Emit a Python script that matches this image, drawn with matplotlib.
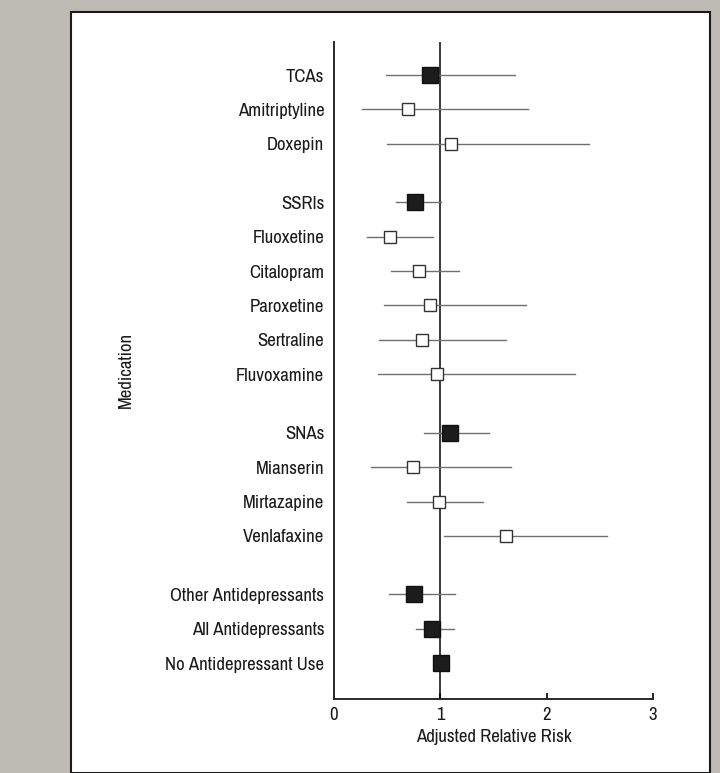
import matplotlib.pyplot as plt
from matplotlib.patches import Rectangle
from matplotlib import font_manager

names = sorted({f.name for f in font_manager.fontManager.ttflist})
narrow = [n for n in names if 'Narrow' in n or 'Condensed' in n]
plt.rcParams['font.family'] = (narrow[:1] if narrow else []) + ['Liberation Sans', 'DejaVu Sans']

# Forest plot data: medication, adjusted RR, lower CI, upper CI
meds = ['TCAs', 'Amitriptyline', 'Doxepin',
        'SSRIs', 'Fluoxetine', 'Citalopram', 'Paroxetine', 'Sertraline', 'Fluvoxamine',
        'SNAs', 'Mianserin', 'Mirtazapine', 'Venlafaxine',
        'Other Antidepressants', 'All Antidepressants', 'No Antidepressant Use']
rr = [0.90, 0.70, 1.10,
      0.76, 0.53, 0.80, 0.90, 0.83, 0.97,
      1.09, 0.74, 0.99, 1.62,
      0.75, 0.92, 1.01]
lo = [0.49, 0.26, 0.50,
      0.58, 0.31, 0.54, 0.47, 0.42, 0.41,
      0.85, 0.35, 0.69, 1.03,
      0.52, 0.77, 1.01]
hi = [1.70, 1.82, 2.40,
      1.01, 0.93, 1.18, 1.81, 1.62, 2.27,
      1.46, 1.66, 1.40, 2.57,
      1.14, 1.13, 1.01]
# class / overall rows get the big filled squares
summary = [True, False, False,
           True, False, False, False, False, False,
           True, False, False, False,
           True, True, True]
rows = [0, 1, 2,
        3.7, 4.7, 5.7, 6.7, 7.7, 8.7,
        10.4, 11.4, 12.4, 13.4,
        15.1, 16.1, 17.1]

FS = 13.5

fig = plt.figure(figsize=(7.2, 7.73), dpi=100)
fig.patch.set_facecolor('#bdbab4')

# white panel behind the chart
panel = Rectangle((71 / 720, 0), (710 - 71) / 720, 1 - 12 / 773,
                  transform=fig.transFigure, facecolor='white',
                  edgecolor='#1a1a1a', linewidth=1.5, zorder=-5)
fig.patches.append(panel)

ax = fig.add_axes([334 / 720, 1 - 699 / 773, (653 - 334) / 720, (699 - 42) / 773])
ax.set_facecolor('none')
ax.set_zorder(2)

ax.axvline(1, color='#2a2a2a', linewidth=1.3, zorder=1)

for y, r, l, h, s in zip(rows, rr, lo, hi, summary):
    if h > l:
        ax.plot([l, h], [y, y], color='#707070', linewidth=1.0, zorder=2)
    if s:
        ax.plot(r, y, marker='s', markersize=11.5, color='#1c1c1c',
                markeredgecolor='#111111', markeredgewidth=1.0, zorder=3)
    else:
        ax.plot(r, y, marker='s', markersize=8.5, markerfacecolor='white',
                markeredgecolor='#333333', markeredgewidth=1.0, zorder=3)

ax.set_xlim(0, 3)
ax.set_ylim(18.14, -0.96)
ax.set_xticks([0, 1, 2, 3])
ax.set_yticks(rows)
ax.set_yticklabels(meds)
ax.tick_params(axis='y', length=0, pad=7, labelsize=FS, labelcolor='#1a1a1a')
ax.tick_params(axis='x', direction='in', length=4, width=1.2, pad=6,
               labelsize=FS, labelcolor='#1a1a1a')

for side in ['top', 'right']:
    ax.spines[side].set_visible(False)
for side in ['left', 'bottom']:
    ax.spines[side].set_linewidth(1.4)
    ax.spines[side].set_color('#2a2a2a')

ax.set_xlabel('Adjusted Relative Risk', fontsize=FS, color='#1a1a1a', labelpad=4)
fig.text(126 / 720, 1 - 370 / 773, 'Medication', rotation=90, ha='center',
         va='center', fontsize=FS, color='#1a1a1a')

fig.savefig('out.png', dpi=100, facecolor=fig.get_facecolor())
